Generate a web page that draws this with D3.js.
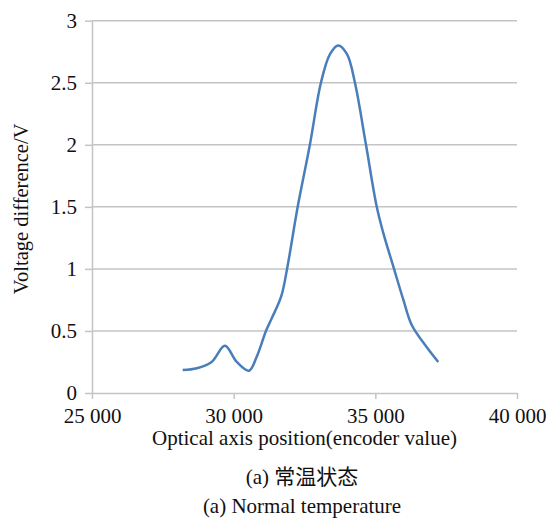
<!DOCTYPE html>
<html>
<head>
<meta charset="utf-8">
<script src="https://cdn.jsdelivr.net/npm/d3@7"></script>
<style>
    body { margin: 0; background: #fff; }
    text { font-family: "Liberation Serif", "Times New Roman", serif; fill: #111; }
    .cjk { font-family: "Liberation Serif", "Noto Sans CJK SC", serif; }
</style>
</head>
<body>
<div id="chart"></div>
<script>
// encoder position vs voltage difference
const positions = [28200, 28700, 29220, 29690, 30110, 30540, 30810, 31140, 31340, 31680, 31900, 32260,
    32690, 33080, 33400, 33690, 34000, 34280, 34670, 35050, 35280, 35660, 35990, 36280, 36810, 37220];
const voltages = [0.185, 0.20, 0.25, 0.38, 0.25, 0.18, 0.29, 0.50, 0.60, 0.78, 1.02, 1.50,
    2.00, 2.50, 2.73, 2.80, 2.73, 2.50, 2.00, 1.50, 1.29, 1.00, 0.75, 0.55, 0.37, 0.25];

const xTicks = [25000, 30000, 35000, 40000];
const yTicks = [0, 0.5, 1, 1.5, 2, 2.5, 3];

const xTitle = "Optical axis position(encoder value)";
const yTitle = "Voltage difference/V";
const captions = ["(a) 常温状态", "(a) Normal temperature"];

const width = 557, height = 520;
const margin = {top: 20.7, right: 40, bottom: 127, left: 92};
const innerW = width - margin.left - margin.right;
const innerH = height - margin.top - margin.bottom;

const svg = d3.select("#chart").append("svg")
    .attr("width", width)
    .attr("height", height);

const g = svg.append("g")
    .attr("transform", `translate(${margin.left},${margin.top})`);

const x = d3.scaleLinear().domain([25000, 40000]).range([0, innerW]);
const y = d3.scaleLinear().domain([0, 3]).range([innerH, 0]);

const gridColor = "#c4c4c4";

// horizontal gridlines
g.selectAll(".grid")
    .data(yTicks.filter(d => d > 0))
    .enter().append("line")
    .attr("class", "grid")
    .attr("x1", 0)
    .attr("x2", innerW)
    .attr("y1", d => y(d))
    .attr("y2", d => y(d))
    .attr("stroke", gridColor)
    .attr("stroke-width", 1.5);

// y axis
const yAxis = g.append("g")
    .call(d3.axisLeft(y).tickValues(yTicks).tickFormat(d => d).tickSize(7).tickSizeOuter(0).tickPadding(8));
yAxis.select(".domain").attr("stroke", gridColor).attr("stroke-width", 1.5);
yAxis.selectAll(".tick line").attr("stroke", gridColor).attr("stroke-width", 1.5);
yAxis.selectAll(".tick text").attr("font-size", 21).attr("fill", "#111")
    .style("font-family", "Liberation Serif");

// x axis
const fmt = d3.formatLocale({decimal: ".", thousands: " ", grouping: [3], currency: ["", ""]}).format(",");
const xAxis = g.append("g")
    .attr("transform", `translate(0,${innerH})`)
    .call(d3.axisBottom(x).tickValues(xTicks).tickFormat(fmt).tickSize(6).tickSizeOuter(0).tickPadding(9));
xAxis.select(".domain").attr("stroke", gridColor).attr("stroke-width", 1.5);
xAxis.selectAll(".tick line").attr("stroke", gridColor).attr("stroke-width", 1.5);
xAxis.selectAll(".tick text").attr("font-size", 21).attr("fill", "#111")
    .style("font-family", "Liberation Serif");

// the curve
const line = d3.line()
    .x((d, i) => x(positions[i]))
    .y(d => y(d))
    .curve(d3.curveCatmullRom.alpha(0.5));

g.append("path")
    .datum(voltages)
    .attr("fill", "none")
    .attr("stroke", "#4a7ebb")
    .attr("stroke-width", 2.5)
    .attr("d", line);

// titles
svg.append("text")
    .attr("x", margin.left + innerW / 2)
    .attr("y", 445)
    .attr("text-anchor", "middle")
    .attr("font-size", 21)
    .text(xTitle);

svg.append("text")
    .attr("transform", `translate(28, ${margin.top + innerH / 2 + 2}) rotate(-90)`)
    .attr("text-anchor", "middle")
    .attr("font-size", 20.5)
    .text(yTitle);

svg.selectAll(".caption")
    .data(captions)
    .enter().append("text")
    .attr("class", "caption cjk")
    .attr("x", 302)
    .attr("y", (d, i) => 484 + i * 29)
    .attr("text-anchor", "middle")
    .attr("font-size", 21)
    .text(d => d);
</script>
</body>
</html>
